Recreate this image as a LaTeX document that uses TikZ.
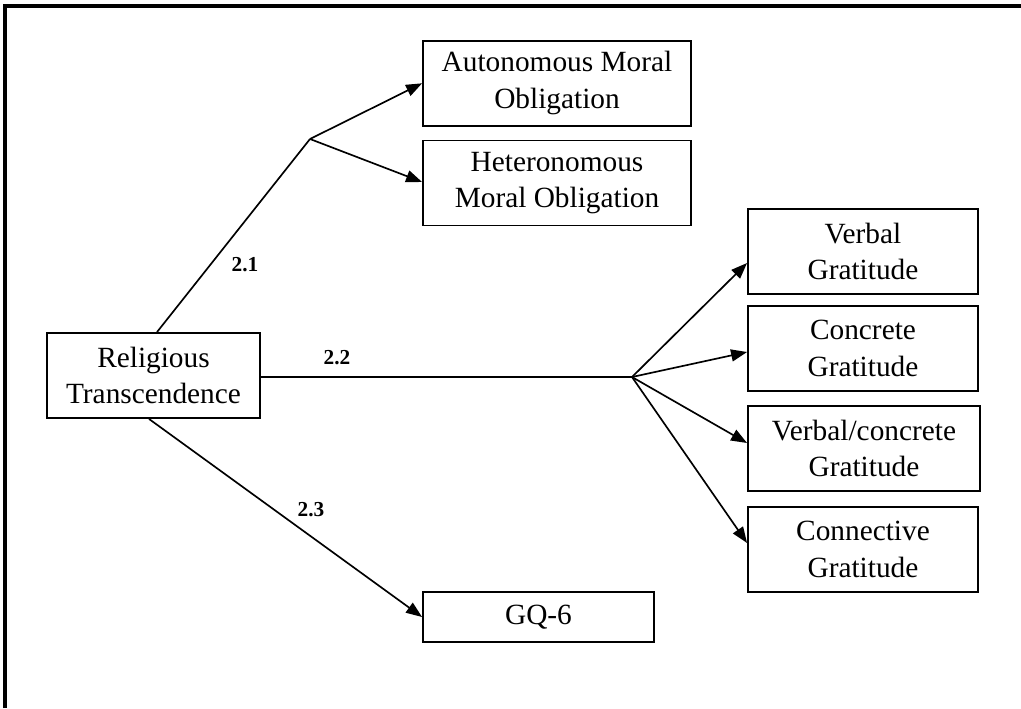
\documentclass[tikz,border=0pt]{standalone}
\usepackage{fontspec}
\setmainfont{Liberation Serif}
\usetikzlibrary{arrows.meta,calc}
\begin{document}
\begin{tikzpicture}[x=0.75pt,y=-0.75pt,
  box/.style={draw, line width=1.4pt, inner sep=0pt, align=center,
    minimum width=230*0.75pt, minimum height=85*0.75pt,
    font=\fontsize{22}{27.5}\selectfont},
  link/.style={line width=1.25pt},
  arr/.style={link, -{Triangle[length=12pt,width=9pt]}},
  pathlabel/.style={font=\fontsize{16}{18}\selectfont\bfseries, inner sep=0pt}]
\useasboundingbox (0,0) rectangle (1021,708);

% frame
\draw[line width=2.6pt] (5,708) -- (5,6) -- (1021,6);

% boxes
\node[box] (rt) at (153.5,375.5) [minimum width=213*0.75pt] {Religious\\Transcendence};
\node[box] (amo) at (557,83.3) [minimum width=268*0.75pt] {Autonomous Moral\\Obligation};
\node[box] (hmo) at (557,183) [minimum width=268*0.75pt] {Heteronomous\\Moral Obligation};
\node[box] (vg) at (863,251.5) {Verbal\\Gratitude};
\node[box] (cg) at (863,348.5) {Concrete\\Gratitude};
\node[box] (vcg) at (864,448.5) [minimum width=232*0.75pt] {Verbal/concrete\\Gratitude};
\node[box] (cng) at (863,549.5) {Connective\\Gratitude};
\node[box] (gq) at (538.5,617) [minimum width=231*0.75pt, minimum height=50*0.75pt] {GQ-6};

% branching points
\coordinate (b1) at (310,139);
\coordinate (b2) at (632,377);

% path 2.1
\draw[link] ($(rt.north)+(3.5,0)$) -- (b1);
\draw[arr] (b1) -- (amo.west);
\draw[arr] (b1) -- ($(hmo.west)+(0,-1)$);

% path 2.2
\draw[link] ($(rt.east)+(0,1.5)$) -- (b2);
\draw[arr] (b2) -- ($(vg.west)+(0,11.5)$);
\draw[arr] (b2) -- ($(cg.west)+(0,3.5)$);
\draw[arr] (b2) -- ($(vcg.west)+(0,-5.5)$);
\draw[arr] (b2) -- ($(cng.west)+(0,-6.5)$);

% path 2.3
\draw[arr] ($(rt.south)+(-4.5,0)$) -- (gq.west);

% path labels
\node[pathlabel] (l1) at (245,265) {2.1};
\node[pathlabel] (l2) at (337,358) {2.2};
\node[pathlabel] (l3) at (311,510) {2.3};
\end{tikzpicture}
\end{document}
